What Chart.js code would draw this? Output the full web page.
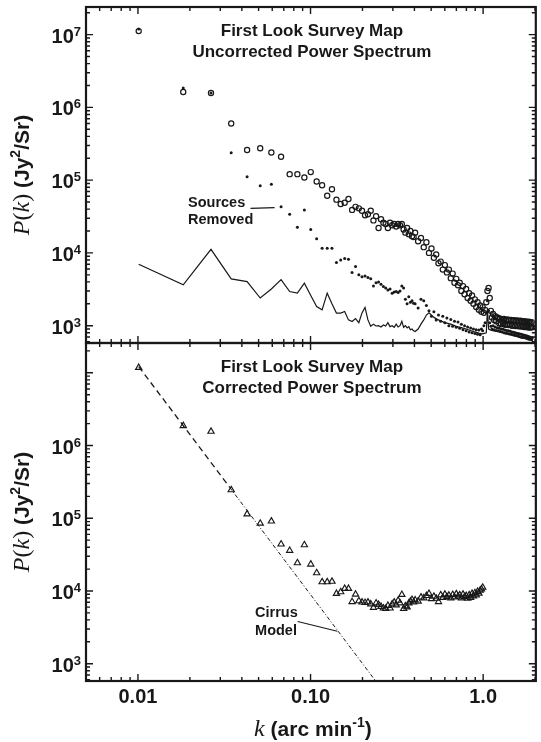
<!DOCTYPE html>
<html>
<head>
<meta charset="utf-8">
<script src="https://cdn.jsdelivr.net/npm/chart.js@4.4.1/dist/chart.umd.min.js"></script>
<style>
  html, body { margin: 0; padding: 0; background: #fff; }
  #wrap { position: relative; width: 541px; height: 742px; }
  canvas { position: absolute; left: 0; }
  #top { top: 0; }
  #bottom { top: 336px; }
</style>
</head>
<body>
<div id="wrap">
  <canvas id="top" width="541" height="350"></canvas>
  <canvas id="bottom" width="541" height="406"></canvas>
</div>
<script>
// spatial frequency grid (arc min^-1) shared by the point series
const kGrid = [
  0.0101, 0.0183, 0.0265, 0.0347, 0.0429, 0.0511, 0.0593, 0.0675, 0.0757, 0.0839,
  0.0921, 0.1003, 0.1085, 0.1167, 0.1249, 0.1331, 0.1413, 0.1495, 0.1577, 0.1659,
  0.1741, 0.1823, 0.1905, 0.1987, 0.2069, 0.2151, 0.2233, 0.2315, 0.2397, 0.2479,
  0.2561, 0.2643, 0.2725, 0.2807, 0.2889, 0.2971, 0.3053, 0.3135, 0.3217, 0.3299,
  0.3381, 0.3463, 0.3545, 0.3627, 0.3709, 0.3791, 0.3873, 0.3955,
  0.4037, 0.4201, 0.4365, 0.4529, 0.4693, 0.4857, 0.5021, 0.5185, 0.5349, 0.5513,
  0.5677, 0.5841, 0.6005, 0.6169, 0.6333, 0.6497, 0.6661, 0.6825, 0.6989, 0.7153,
  0.7317, 0.7481, 0.7645, 0.7809, 0.7973, 0.8137, 0.8301, 0.8465, 0.8629, 0.8793,
  0.8957, 0.9121, 0.9285, 0.9449, 0.9613, 0.9777, 0.9941, 1.0105, 1.0269, 1.0433,
  1.0597, 1.0761, 1.0925, 1.1089, 1.1253, 1.1417, 1.1581, 1.1745, 1.1909, 1.2073,
  1.2237, 1.2401, 1.2565, 1.2729, 1.2893, 1.3057, 1.3221, 1.3385, 1.3549, 1.3713,
  1.3877, 1.4041, 1.4205, 1.4369, 1.4533, 1.4697, 1.4861, 1.5025, 1.5189, 1.5353,
  1.5517, 1.5681, 1.5845, 1.6009, 1.6173, 1.6337, 1.6501, 1.6665, 1.6829, 1.6993,
  1.7157, 1.7321, 1.7485, 1.7649, 1.7813, 1.7977, 1.8141, 1.8305, 1.8469, 1.8633,
  1.8797, 1.8961, 1.9125, 1.9289
];

// open circles: uncorrected map
const pUncorrected = [
  1.12e7, 1.63e6, 1.58e6, 6.0e5, 2.6e5, 2.75e5, 2.4e5, 2.1e5, 1.21e5, 1.21e5,
  1.09e5, 1.29e5, 9.6e4, 8.5e4, 6.1e4, 7.5e4, 5.4e4, 4.7e4, 4.9e4, 5.5e4,
  3.9e4, 4.3e4, 4.1e4, 3.8e4, 3.3e4, 3.4e4, 3.8e4, 2.8e4, 3.2e4, 2.2e4,
  2.9e4, 2.6e4, 2.5e4, 2.2e4, 2.6e4, 2.4e4, 2.5e4, 2.3e4, 2.5e4, 2.4e4,
  2.5e4, 2.1e4, 1.9e4, 2.2e4, 1.8e4, 2.0e4, 1.7e4, 1.65e4,
  1.9e4, 1.45e4, 1.6e4, 1.2e4, 1.4e4, 1.0e4, 1.15e4, 8.6e3, 9.5e3, 7.2e3,
  7.6e3, 5.9e3, 6.8e3, 5.4e3, 5.9e3, 4.5e3, 5.2e3, 3.9e3, 4.4e3, 3.6e3,
  3.9e3, 3.0e3, 3.5e3, 2.7e3, 3.2e3, 2.4e3, 2.8e3, 2.2e3, 2.6e3, 2.0e3,
  2.3e3, 1.8e3, 2.1e3, 1.65e3, 1.9e3, 1.55e3, 1.8e3, 1.5e3, 1.65e3, 2.1e3,
  3.0e3, 3.3e3, 2.4e3, 1.6e3, 1.3e3, 1.45e3, 1.2e3, 1.35e3, 1.15e3, 1.3e3,
  1.28e3, 1.08e3, 1.25e3, 1.05e3, 1.22e3, 1.06e3, 1.24e3, 1.03e3, 1.2e3, 1.04e3,
  1.22e3, 1.02e3, 1.18e3, 1.03e3, 1.2e3, 1.0e3, 1.17e3, 1.02e3, 1.19e3, 990,
  1.16e3, 1.01e3, 1.18e3, 980, 1.15e3, 1.0e3, 1.17e3, 970, 1.14e3, 990,
  1.15e3, 960, 1.13e3, 980, 1.14e3, 950, 1.12e3, 970, 1.13e3, 940,
  1.1e3, 960, 1.12e3, 950
];

// small dots: point sources removed
const pSourcesRemoved = [
  1.2e7, 1.85e6, 1.58e6, 2.38e5, 1.11e5, 8.4e4, 8.8e4, 4.3e4, 3.4e4, 2.25e4,
  3.9e4, 2.1e4, 1.57e4, 1.16e4, 1.16e4, 1.16e4, 7.4e3, 8.0e3, 8.4e3, 8.2e3,
  5.4e3, 6.5e3, 5.0e3, 4.7e3, 4.8e3, 4.6e3, 4.4e3, 3.5e3, 3.9e3, 4.0e3,
  3.7e3, 3.45e3, 3.3e3, 3.1e3, 3.2e3, 2.8e3, 2.9e3, 2.95e3, 2.85e3, 3.0e3,
  3.5e3, 3.3e3, 2.3e3, 2.0e3, 2.5e3, 2.1e3, 2.2e3, 2.04e3,
  2.0e3, 1.75e3, 2.3e3, 2.2e3, 1.9e3, 1.6e3, 1.35e3, 1.55e3, 1.2e3, 1.4e3,
  1.15e3, 1.35e3, 1.1e3, 1.28e3, 1.0e3, 1.22e3, 980, 1.15e3, 950, 1.12e3,
  920, 1.05e3, 880, 1.0e3, 850, 960, 820, 930, 800, 900,
  780, 880, 760, 870, 750, 900, 850, 1.0e3, 1.1e3, 1.5e3,
  2.2e3, 1.6e3, 1.1e3, 980, 900, 1.0e3, 880, 960, 860, 940,
  850, 920, 830, 900, 820, 890, 800, 870, 790, 860,
  780, 850, 770, 840, 760, 820, 750, 810, 740, 800,
  730, 790, 720, 780, 710, 770, 700, 760, 690, 750,
  690, 740, 680, 730, 670, 720, 660, 710, 650, 700,
  650, 690, 640, 680
];

// solid line
const kNoise = [
  0.0101, 0.0183, 0.0265, 0.0347, 0.0429, 0.0511, 0.0593, 0.0675, 0.0757, 0.0839,
  0.0921, 0.1003, 0.1085, 0.1167, 0.1249, 0.1331, 0.1413, 0.1495, 0.1577, 0.1659,
  0.1741, 0.1823, 0.1905, 0.1987, 0.2069, 0.2151, 0.2233, 0.2315, 0.2397, 0.2479,
  0.2561, 0.2643, 0.2725, 0.2807, 0.2889, 0.2971, 0.3053, 0.3135, 0.3217, 0.3299,
  0.3381, 0.3463, 0.3545, 0.3627, 0.3709, 0.3791, 0.3873, 0.3955, 0.4037, 0.4201,
  0.4365, 0.4529, 0.4693, 0.4857, 0.5185, 0.5513, 0.6005, 0.6497, 0.6989, 0.7481,
  0.7973, 0.8465, 0.8957, 0.9449, 0.9941, 1.0433, 1.0597, 1.0761, 1.1089, 1.1581,
  1.2401, 1.3221, 1.4041, 1.4861, 1.5681, 1.6501, 1.7321, 1.8141, 1.8961, 1.9289
];
const pNoise = [
  7.0e3, 3.64e3, 1.12e4, 4.4e3, 4.04e3, 2.4e3, 3.2e3, 4.3e3, 2.95e3, 2.8e3,
  3.84e3, 2.6e3, 1.83e3, 1.65e3, 2.8e3, 2.0e3, 1.49e3, 1.49e3, 1.57e3, 1.2e3,
  1.14e3, 1.25e3, 1.1e3, 1.5e3, 1.78e3, 1.2e3, 980, 1.05e3, 990, 1.0e3,
  960, 1.02e3, 990, 1.1e3, 970, 1.0e3, 950, 1.05e3, 960, 1.0e3,
  1.15e3, 950, 1.0e3, 930, 970, 880, 900, 850, 830, 900,
  1.05e3, 1.2e3, 1.4e3, 1.5e3, 1.3e3, 1.2e3, 1.1e3, 1.05e3, 980, 940,
  900, 860, 820, 790, 770, 800, 1.7e3, 900, 870, 850,
  820, 800, 770, 740, 720, 700, 680, 660, 645, 640
];

// triangles: corrected spectrum (first 85 grid points)
const pCorrected = [
  1.18e7, 1.87e6, 1.56e6, 2.45e5, 1.14e5, 8.5e4, 9.1e4, 4.4e4, 3.6e4, 2.43e4,
  4.3e4, 2.33e4, 1.77e4, 1.33e4, 1.33e4, 1.35e4, 9.2e3, 9.7e3, 1.08e4, 1.08e4,
  7.1e3, 9.0e3, 7.3e3, 7.0e3, 6.9e3, 7.0e3, 6.6e3, 5.9e3, 6.8e3, 6.5e3,
  6.1e3, 5.8e3, 5.7e3, 6.3e3, 5.8e3, 6.6e3, 7.0e3, 6.4e3, 7.4e3, 6.8e3,
  8.9e3, 5.7e3, 6.2e3, 6.0e3, 6.8e3, 7.2e3, 7.6e3, 7.0e3,
  7.5e3, 7.2e3, 8.2e3, 8.0e3, 8.6e3, 9.2e3, 7.8e3, 8.4e3, 7.9e3, 7.1e3,
  8.8e3, 8.1e3, 9.0e3, 8.3e3, 8.7e3, 8.0e3, 8.9e3, 8.2e3, 9.1e3, 8.4e3,
  8.8e3, 8.0e3, 9.0e3, 8.3e3, 8.6e3, 7.9e3, 8.8e3, 8.1e3, 9.2e3, 8.5e3,
  9.4e3, 8.8e3, 9.8e3, 9.3e3, 1.02e4, 1.06e4, 1.12e4
];

// cirrus model: dashed part then dash-dot part
const kCirrusDash = [0.0101, 0.034];
const pCirrusDash = [1.22e7, 2.66e5];
const kCirrusDot = [0.034, 0.26];
const pCirrusDot = [2.66e5, 439];

const xTickValues = [0.01, 0.1, 1];
const xTickLabels = ['0.01', '0.10', '1.0'];
const yPowersTop = [3, 4, 5, 6, 7];
const yPowersBottom = [3, 4, 5, 6];

const SANS = '"Liberation Sans", Arial, Helvetica, sans-serif';
const SERIF = '"Liberation Serif", "Times New Roman", serif';
const INK = '#181818';

function pts(ks, ps) {
  return ps.map((p, i) => ({ x: ks[i], y: p }));
}

// draw a run of differently styled text pieces: [text, font, dy]
function drawRun(ctx, pieces, x, y, center) {
  let w = 0;
  pieces.forEach(p => { ctx.font = p[1]; w += ctx.measureText(p[0]).width; });
  let cx = center ? x - w / 2 : x;
  ctx.textAlign = 'left';
  pieces.forEach(p => {
    ctx.font = p[1];
    ctx.fillText(p[0], cx, y + (p[2] || 0));
    cx += ctx.measureText(p[0]).width;
  });
}

const framePlugin = {
  id: 'frame',
  afterDatasetsDraw(chart, args, o) {
    const { ctx, chartArea: a } = chart;
    const xs = chart.scales.x, ys = chart.scales.y;
    ctx.save();
    ctx.strokeStyle = INK;
    ctx.fillStyle = INK;
    ctx.lineWidth = 2.2;
    ctx.strokeRect(a.left, a.top, a.right - a.left, a.bottom - a.top);

    // inward ticks on all four sides
    ctx.lineWidth = 1.4;
    ctx.beginPath();
    for (let e = -3; e <= 0; e++) {
      for (let m = 1; m <= 9; m++) {
        const v = m * Math.pow(10, e);
        if (v <= xs.min * 1.001 || v >= xs.max) continue;
        const px = xs.getPixelForValue(v);
        const len = m === 1 ? 7 : 4;
        ctx.moveTo(px, a.bottom); ctx.lineTo(px, a.bottom - len);
        ctx.moveTo(px, a.top); ctx.lineTo(px, a.top + len);
      }
    }
    for (let e = 2; e <= 7; e++) {
      for (let m = 1; m <= 9; m++) {
        const v = m * Math.pow(10, e);
        if (v <= ys.min || v >= ys.max) continue;
        const py = ys.getPixelForValue(v);
        const len = m === 1 ? 7 : 4;
        ctx.moveTo(a.left, py); ctx.lineTo(a.left + len, py);
        ctx.moveTo(a.right, py); ctx.lineTo(a.right - len, py);
      }
    }
    ctx.stroke();

    // y tick labels 10^n
    ctx.textBaseline = 'alphabetic';
    o.yPowers.forEach(p => {
      const py = ys.getPixelForValue(Math.pow(10, p));
      const xr = a.left - 5;
      ctx.textAlign = 'right';
      ctx.font = 'bold 13px ' + SANS;
      const sw = ctx.measureText(String(p)).width;
      ctx.fillText(String(p), xr, py + 1);
      ctx.font = 'bold 20px ' + SANS;
      ctx.fillText('10', xr - sw, py + 8);
    });

    // y axis title, rotated
    ctx.save();
    ctx.translate(29, (a.top + a.bottom) / 2);
    ctx.rotate(-Math.PI / 2);
    drawRun(ctx, [
      ['P', 'italic 24px ' + SERIF],
      ['(', '24px ' + SERIF],
      ['k', 'italic 24px ' + SERIF],
      [')', '24px ' + SERIF],
      [' (Jy', 'bold 21px ' + SANS],
      ['2', 'bold 14px ' + SANS, -9],
      ['/Sr)', 'bold 21px ' + SANS]
    ], 0, 0, true);
    ctx.restore();

    // panel title
    const cx = (a.left + a.right) / 2;
    ctx.textAlign = 'center';
    ctx.font = 'bold 17px ' + SANS;
    ctx.fillText(o.title[0], cx + 1, a.top + 29);
    ctx.fillText(o.title[1], cx + 1, a.top + 49.5);

    // annotations placed in data coordinates
    ctx.textAlign = 'left';
    ctx.font = 'bold 14.5px ' + SANS;
    o.notes.forEach(n => {
      ctx.fillText(n.text, xs.getPixelForValue(n.k), ys.getPixelForValue(n.p));
    });
    ctx.lineWidth = 1.1;
    ctx.beginPath();
    o.leaders.forEach(l => {
      ctx.moveTo(xs.getPixelForValue(l[0]), ys.getPixelForValue(l[1]));
      ctx.lineTo(xs.getPixelForValue(l[2]), ys.getPixelForValue(l[3]));
    });
    ctx.stroke();

    // x axis labels and title (bottom panel only)
    if (o.xAxis) {
      ctx.textAlign = 'center';
      ctx.font = 'bold 20px ' + SANS;
      xTickValues.forEach((v, i) => {
        ctx.fillText(xTickLabels[i], xs.getPixelForValue(v), a.bottom + 22);
      });
      drawRun(ctx, [
        ['k', 'italic 24px ' + SERIF],
        [' (arc min', 'bold 21px ' + SANS],
        ['-1', 'bold 14px ' + SANS, -9],
        [')', 'bold 21px ' + SANS]
      ], cx + 2, a.bottom + 55, true);
    }
    ctx.restore();
  }
};

function makeChart(id, datasets, yMax, padBottom, frameOpts) {
  return new Chart(document.getElementById(id), {
    type: 'scatter',
    data: { datasets },
    options: {
      responsive: false,
      animation: false,
      events: [],
      layout: { padding: { left: 86, right: 1, top: 7, bottom: padBottom } },
      scales: {
        x: { type: 'logarithmic', min: 0.005, max: 2.02, bounds: 'data', display: false },
        y: { type: 'logarithmic', min: 578, max: yMax, bounds: 'data', display: false }
      },
      plugins: { legend: { display: false }, tooltip: { enabled: false }, frame: frameOpts }
    },
    plugins: [framePlugin]
  });
}

makeChart('top', [
  {
    data: pts(kGrid, pUncorrected), pointStyle: 'circle', pointRadius: 2.6,
    pointBorderWidth: 1.2, pointBorderColor: INK, pointBackgroundColor: 'rgba(0,0,0,0)'
  },
  {
    data: pts(kGrid, pSourcesRemoved), pointStyle: 'circle', pointRadius: 1.5,
    pointBorderWidth: 0, pointBackgroundColor: INK
  },
  {
    data: pts(kNoise, pNoise), showLine: true, borderColor: INK, borderWidth: 1.2,
    pointRadius: 0, tension: 0
  }
], 2.4e7, 7, {
  yPowers: yPowersTop,
  title: ['First Look Survey Map', 'Uncorrected Power Spectrum'],
  notes: [
    { text: 'Sources', k: 0.0195, p: 4.24e4 },
    { text: 'Removed', k: 0.0195, p: 2.5e4 }
  ],
  leaders: [[0.0449, 4.1e4, 0.0619, 4.2e4]],
  xAxis: false
});

makeChart('bottom', [
  {
    data: pts(kGrid, pCorrected), pointStyle: 'triangle', pointRadius: 3.6,
    pointBorderWidth: 1.15, pointBorderColor: INK, pointBackgroundColor: 'rgba(0,0,0,0)'
  },
  {
    data: pts(kCirrusDash, pCirrusDash), showLine: true, borderColor: INK, borderWidth: 1.3,
    borderDash: [6, 4], pointRadius: 0
  },
  {
    data: pts(kCirrusDot, pCirrusDot), showLine: true, borderColor: INK, borderWidth: 1,
    borderDash: [4, 2, 1, 2], pointRadius: 0
  }
], 2.57e7, 61, {
  yPowers: yPowersBottom,
  title: ['First Look Survey Map', 'Corrected Power Spectrum'],
  notes: [
    { text: 'Cirrus', k: 0.0477, p: 4.4e3 },
    { text: 'Model', k: 0.0477, p: 2.5e3 }
  ],
  leaders: [[0.0842, 3.8e3, 0.1429, 2.8e3]],
  xAxis: true
});
</script>
</body>
</html>
